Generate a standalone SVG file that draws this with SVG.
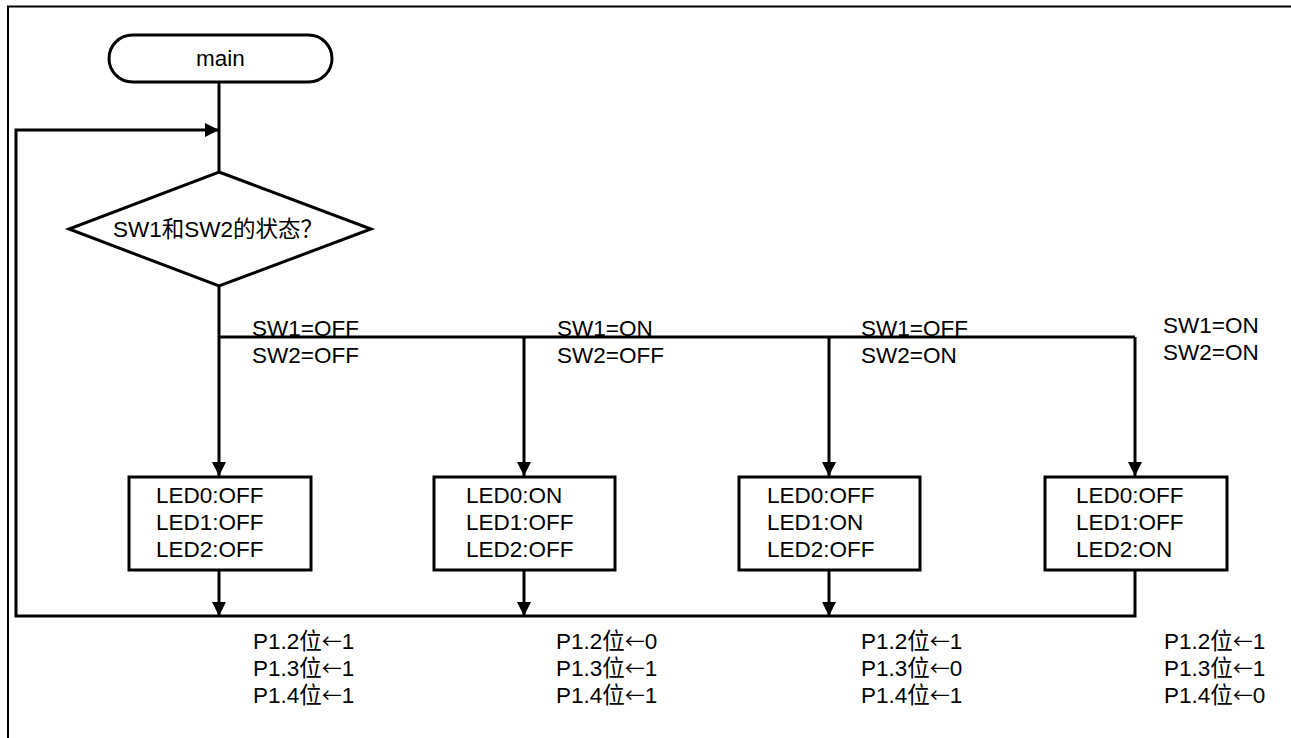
<svg xmlns="http://www.w3.org/2000/svg" width="1291" height="738" viewBox="0 0 1291 738">
<style>
.ln{stroke:#000;stroke-width:3;fill:none}
.frame{stroke:#000;stroke-width:2;fill:none}
.box{fill:#fff;stroke:#000;stroke-width:3}
text{font-family:"Liberation Sans",Arial,"Noto Sans CJK SC",sans-serif;font-size:22.5px;fill:#000}
.c{text-anchor:middle}
.ar{font-family:"Noto Sans CJK SC",sans-serif;font-size:20px}
</style>
<defs>
<marker id="ah" markerUnits="userSpaceOnUse" markerWidth="14" markerHeight="14" refX="14" refY="7" orient="auto">
<path d="M0,0 L14,7 L0,14 z" fill="#000"/>
</marker>
</defs>
<rect width="1291" height="738" fill="#fff"/>
<path class="frame" d="M8,738 V6.5 H1291"/>

<g id="connectors">
<path class="ln" d="M219,82 V172"/>
<path class="ln" d="M219,616 H16 V130 H219" marker-end="url(#ah)"/>
<path class="ln" d="M219,286 V476" marker-end="url(#ah)"/>
<path class="ln" d="M219,337 H1135"/>
<path class="ln" d="M524,337 V476" marker-end="url(#ah)"/>
<path class="ln" d="M829,337 V476" marker-end="url(#ah)"/>
<path class="ln" d="M1135,337 V476" marker-end="url(#ah)"/>
<path class="ln" d="M219,570 V616" marker-end="url(#ah)"/>
<path class="ln" d="M524,570 V616" marker-end="url(#ah)"/>
<path class="ln" d="M829,570 V616" marker-end="url(#ah)"/>
<path class="ln" d="M1135,570 V616 H219"/>
<text x="252" y="336">SW1=OFF</text>
<text x="252" y="363">SW2=OFF</text>
<text x="557" y="336">SW1=ON</text>
<text x="557" y="363">SW2=OFF</text>
<text x="861" y="336">SW1=OFF</text>
<text x="861" y="363">SW2=ON</text>
<text x="1163" y="333">SW1=ON</text>
<text x="1163" y="360">SW2=ON</text>
<text x="253" y="649">P1.2位<tspan class="ar">←</tspan>1</text>
<text x="253" y="676">P1.3位<tspan class="ar">←</tspan>1</text>
<text x="253" y="703">P1.4位<tspan class="ar">←</tspan>1</text>
<text x="556" y="649">P1.2位<tspan class="ar">←</tspan>0</text>
<text x="556" y="676">P1.3位<tspan class="ar">←</tspan>1</text>
<text x="556" y="703">P1.4位<tspan class="ar">←</tspan>1</text>
<text x="861" y="649">P1.2位<tspan class="ar">←</tspan>1</text>
<text x="861" y="676">P1.3位<tspan class="ar">←</tspan>0</text>
<text x="861" y="703">P1.4位<tspan class="ar">←</tspan>1</text>
<text x="1164" y="649">P1.2位<tspan class="ar">←</tspan>1</text>
<text x="1164" y="676">P1.3位<tspan class="ar">←</tspan>1</text>
<text x="1164" y="703">P1.4位<tspan class="ar">←</tspan>0</text>
</g>

<g id="main">
<rect class="box" x="109" y="35" width="223" height="47" rx="23.5"/>
<text class="c" x="220.5" y="66">main</text>
</g>

<g id="decision">
<path class="box" d="M219,172 L371,229 L219,286 L69,229 Z"/>
<text x="113" y="237">SW1和SW2的状态<tspan font-family="Noto Sans CJK SC, sans-serif">？</tspan></text>
</g>

<g id="box1">
<rect class="box" x="129" y="477" width="182" height="93"/>
<text x="156" y="503">LED0:OFF</text>
<text x="156" y="530">LED1:OFF</text>
<text x="156" y="557">LED2:OFF</text>
</g>
<g id="box2">
<rect class="box" x="434" y="477" width="181" height="93"/>
<text x="466" y="503">LED0:ON</text>
<text x="466" y="530">LED1:OFF</text>
<text x="466" y="557">LED2:OFF</text>
</g>
<g id="box3">
<rect class="box" x="739" y="477" width="181" height="93"/>
<text x="767" y="503">LED0:OFF</text>
<text x="767" y="530">LED1:ON</text>
<text x="767" y="557">LED2:OFF</text>
</g>
<g id="box4">
<rect class="box" x="1045" y="477" width="182" height="93"/>
<text x="1076" y="503">LED0:OFF</text>
<text x="1076" y="530">LED1:OFF</text>
<text x="1076" y="557">LED2:ON</text>
</g>
</svg>
